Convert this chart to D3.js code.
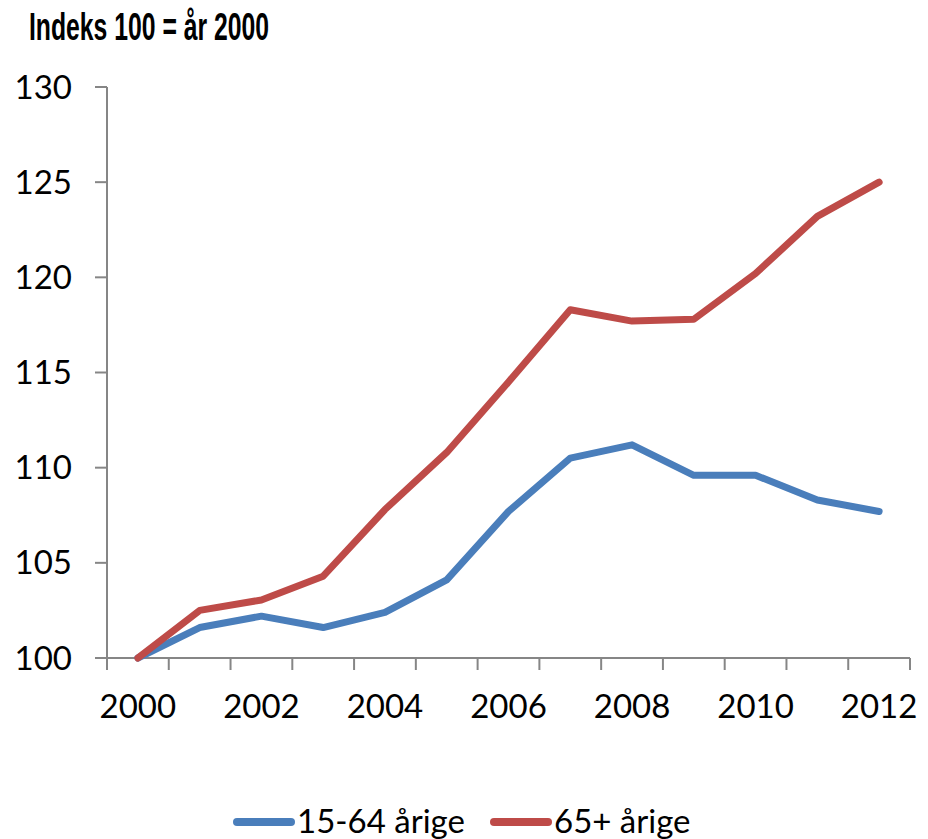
<!DOCTYPE html>
<html>
<head>
<meta charset="utf-8">
<script src="https://cdn.jsdelivr.net/npm/d3@7"></script>
<style>
  body { margin: 0; background: #fff; }
  svg { display: block; }
</style>
</head>
<body>
<svg id="chart" width="928" height="839"></svg>
<script>
// data
const years = d3.range(2000, 2013);
const yearLabels = ["2000", "2002", "2004", "2006", "2008", "2010", "2012"];
const yTicks = [100, 105, 110, 115, 120, 125, 130];
const workAge = [100, 101.6, 102.2, 101.6, 102.4, 104.1, 107.7, 110.5, 111.2, 109.6, 109.6, 108.3, 107.7];
const elderly = [100, 102.5, 103.05, 104.3, 107.8, 110.8, 114.5, 118.3, 117.7, 117.8, 120.2, 123.2, 125.0];
const seriesNames = ["15-64 årige", "65+ årige"];
const seriesColors = ["#4a7ebb", "#be4b48"];

const svg = d3.select('#chart');
const axisColor = "#868686";
const labelFont = "Lato, 'Noto Sans', sans-serif";

const x = d3.scaleBand().domain(years).range([107, 910]);
const y = d3.scaleLinear().domain([100, 130]).range([658, 87]);

// title (squeezed narrow bold, like the original)
svg.append('text')
    .attr('x', 29)
    .attr('y', 40)
    .attr('font-family', "'Liberation Sans Narrow', 'Liberation Sans', sans-serif")
    .attr('font-weight', 'bold')
    .attr('font-size', 38)
    .attr('textLength', 240)
    .attr('lengthAdjust', 'spacingAndGlyphs')
    .text("Indeks 100 = år 2000");

// y axis
const yAxis = svg.append('g');
yAxis.append('line')
    .attr('x1', 107).attr('x2', 107)
    .attr('y1', y(100)).attr('y2', y(130))
    .attr('stroke', axisColor).attr('stroke-width', 2);
yAxis.selectAll('.ytick')
    .data(yTicks)
    .enter().append('line')
        .attr('class', 'ytick')
        .attr('x1', 95).attr('x2', 107)
        .attr('y1', d => y(d)).attr('y2', d => y(d))
        .attr('stroke', axisColor).attr('stroke-width', 2);
yAxis.selectAll('.ylabel')
    .data(yTicks)
    .enter().append('text')
        .attr('class', 'ylabel')
        .attr('x', 72)
        .attr('y', d => y(d))
        .attr('dy', '0.35em')
        .attr('text-anchor', 'end')
        .attr('font-family', labelFont)
        .attr('font-size', 33)
        .text(d => d);

// x axis, ticks sit on the band edges
const xAxis = svg.append('g');
xAxis.append('line')
    .attr('x1', x.range()[0]).attr('x2', x.range()[1])
    .attr('y1', y(100)).attr('y2', y(100))
    .attr('stroke', axisColor).attr('stroke-width', 2);
xAxis.selectAll('.xtick')
    .data(years.concat([2013]))
    .enter().append('line')
        .attr('class', 'xtick')
        .attr('x1', d => x.range()[0] + (d - 2000) * x.step())
        .attr('x2', d => x.range()[0] + (d - 2000) * x.step())
        .attr('y1', y(100)).attr('y2', y(100) + 12)
        .attr('stroke', axisColor).attr('stroke-width', 2);
xAxis.selectAll('.xlabel')
    .data(yearLabels)
    .enter().append('text')
        .attr('class', 'xlabel')
        .attr('x', d => x(+d) + x.bandwidth() / 2)
        .attr('y', 718)
        .attr('text-anchor', 'middle')
        .attr('font-family', labelFont)
        .attr('font-size', 33)
        .text(d => d);

// lines
const line = d3.line()
    .x((d, i) => x(years[i]) + x.bandwidth() / 2)
    .y(d => y(d));

svg.selectAll('.series')
    .data([workAge, elderly])
    .enter().append('path')
        .attr('class', 'series')
        .attr('d', d => line(d))
        .attr('fill', 'none')
        .attr('stroke', (d, i) => seriesColors[i])
        .attr('stroke-width', 7)
        .attr('stroke-linejoin', 'round')
        .attr('stroke-linecap', 'round');

// legend
const legendX = [237, 494];
const legend = svg.selectAll('.legend')
    .data(seriesNames)
    .enter().append('g')
        .attr('class', 'legend')
        .attr('transform', (d, i) => `translate(${legendX[i]},822)`);
legend.append('line')
    .attr('x1', 0).attr('x2', 54)
    .attr('stroke', (d, i) => seriesColors[i])
    .attr('stroke-width', 8)
    .attr('stroke-linecap', 'round');
legend.append('text')
    .attr('x', 60)
    .attr('y', 11)
    .attr('font-family', labelFont)
    .attr('font-size', 33)
    .text(d => d);
</script>
</body>
</html>
